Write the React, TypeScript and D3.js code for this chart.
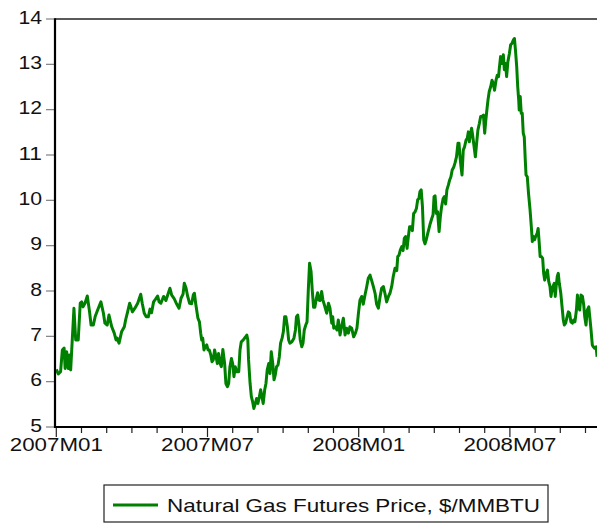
import * as d3 from "d3";

// [months since 2007M01, price $/MMBTU]
const early2007: [number, number][] = [
  [0, 6.27], [0.08, 6.17], [0.17, 6.22], [0.24, 6.7], [0.31, 6.74], [0.35, 6.29], [0.41, 6.66],
  [0.48, 6.29], [0.52, 6.59], [0.57, 6.26], [0.64, 6.99], [0.7, 7.62], [0.77, 6.92], [0.87, 6.92],
  [0.95, 7.73], [1.01, 7.76], [1.06, 7.65], [1.14, 7.73], [1.23, 7.89], [1.32, 7.54], [1.38, 7.25],
  [1.47, 7.25], [1.54, 7.43], [1.64, 7.58], [1.77, 7.76], [1.87, 7.51], [1.93, 7.29], [2.02, 7.25],
  [2.09, 7.47], [2.2, 7.21], [2.3, 7.07], [2.37, 6.92], [2.41, 6.96], [2.49, 6.85], [2.59, 7.1],
  [2.7, 7.21], [2.75, 7.36], [2.83, 7.54], [2.91, 7.73], [2.96, 7.65], [3.02, 7.54], [3.12, 7.62],
  [3.23, 7.73], [3.35, 7.93], [3.41, 7.73], [3.49, 7.51], [3.57, 7.43], [3.65, 7.43], [3.72, 7.6],
  [3.78, 7.52], [3.86, 7.76], [3.94, 7.82], [4.02, 7.89], [4.08, 7.76], [4.15, 7.73], [4.26, 7.88],
  [4.35, 7.79], [4.45, 7.96], [4.51, 8.06], [4.58, 7.91], [4.67, 7.84], [4.76, 7.73], [4.87, 7.62],
  [4.95, 7.84], [5.03, 7.93], [5.08, 8.17], [5.15, 8.06], [5.21, 7.89], [5.29, 7.73],
];

const late2007: [number, number][] = [
  [5.37, 7.72], [5.44, 7.92], [5.48, 7.95], [5.53, 7.73], [5.57, 7.58], [5.62, 7.4], [5.68, 7.32],
  [5.73, 7.07], [5.77, 6.92], [5.81, 6.96], [5.86, 6.7], [5.91, 6.77], [5.97, 6.81], [6.02, 6.7],
  [6.07, 6.7], [6.13, 6.59], [6.18, 6.44], [6.23, 6.48], [6.28, 6.7], [6.34, 6.55], [6.39, 6.4],
  [6.44, 6.62], [6.5, 6.4], [6.55, 6.33], [6.61, 6.71], [6.68, 6.4], [6.73, 5.96], [6.79, 5.89],
  [6.84, 5.96], [6.89, 6.33], [6.95, 6.51], [7.0, 6.4], [7.05, 6.11], [7.1, 6.33], [7.16, 6.22],
  [7.24, 6.22], [7.29, 6.7], [7.34, 6.88], [7.42, 6.92], [7.5, 6.98], [7.56, 7.03], [7.6, 6.92],
  [7.63, 6.48], [7.69, 5.96], [7.74, 5.67], [7.79, 5.56], [7.84, 5.41], [7.9, 5.52], [7.95, 5.63],
  [8.0, 5.52], [8.06, 5.67], [8.11, 5.82], [8.16, 5.67], [8.21, 5.52], [8.27, 5.82], [8.32, 5.96],
  [8.37, 6.26], [8.43, 6.4], [8.48, 6.18], [8.53, 6.66], [8.59, 6.4], [8.64, 6.04], [8.69, 6.15],
  [8.74, 6.33], [8.8, 6.37], [8.85, 6.55], [8.9, 6.85], [8.96, 6.96], [9.01, 7.1], [9.06, 7.43],
  [9.11, 7.43], [9.17, 7.21], [9.22, 6.92], [9.27, 6.85], [9.35, 6.88], [9.43, 6.96], [9.49, 7.14],
  [9.53, 7.43], [9.58, 7.47], [9.63, 7.25], [9.68, 6.92], [9.74, 6.77], [9.79, 6.85], [9.84, 7.14],
  [9.9, 7.25], [9.95, 7.32], [10.0, 8.02], [10.05, 8.61], [10.11, 8.43], [10.16, 7.99], [10.21, 7.64],
  [10.26, 7.64], [10.32, 7.84], [10.37, 7.96], [10.42, 7.8], [10.47, 7.79], [10.53, 7.99], [10.58, 7.8],
  [10.64, 7.69],
];

const early2008: [number, number][] = [
  [10.73, 7.51], [10.8, 7.73], [10.86, 7.62], [10.93, 7.29], [10.97, 7.43], [11.01, 7.18], [11.07, 7.21],
  [11.14, 7.14], [11.19, 7.36], [11.26, 7.03], [11.32, 7.21], [11.39, 7.4], [11.46, 7.03], [11.52, 7.18],
  [11.59, 7.07], [11.65, 7.21], [11.72, 7.18], [11.8, 6.99], [11.87, 7.07], [11.93, 7.18], [11.99, 7.51],
  [12.05, 7.8], [12.12, 7.88], [12.18, 7.71], [12.25, 7.91], [12.32, 8.1], [12.38, 8.28], [12.45, 8.35],
  [12.51, 8.24], [12.58, 8.1], [12.65, 7.95], [12.71, 7.71], [12.78, 7.62], [12.85, 7.88], [12.91, 8.06],
  [12.98, 8.1], [13.04, 7.95], [13.11, 7.76], [13.18, 7.88], [13.24, 7.95], [13.31, 8.1], [13.37, 8.32],
  [13.44, 8.5], [13.51, 8.45], [13.55, 8.76], [13.6, 8.79], [13.65, 8.9], [13.71, 8.98], [13.76, 8.89],
  [13.81, 9.16], [13.86, 9.2], [13.92, 8.94], [13.97, 9.2], [14.02, 9.42], [14.07, 9.42], [14.13, 9.33],
  [14.18, 9.71], [14.24, 9.75], [14.29, 9.82], [14.34, 10.01], [14.39, 10.04], [14.43, 10.19],
  [14.48, 10.23], [14.53, 9.86], [14.58, 9.13], [14.63, 9.04], [14.68, 9.13], [14.74, 9.27],
  [14.79, 9.38], [14.84, 9.49], [14.9, 9.6], [14.95, 9.68], [14.99, 10.08], [15.03, 10.1], [15.08, 9.71],
  [15.13, 9.75], [15.19, 9.31], [15.24, 9.64], [15.29, 9.86], [15.35, 10.04], [15.4, 10.08],
  [15.45, 9.92], [15.5, 10.23], [15.56, 10.34], [15.61, 10.45], [15.66, 10.52], [15.71, 10.67],
  [15.77, 10.73], [15.82, 10.82], [15.88, 10.96], [15.94, 11.26], [15.98, 11.26],
];

const late2008: [number, number][] = [
  [16.02, 10.96], [16.06, 10.74], [16.1, 10.56], [16.15, 11.11], [16.2, 11.18], [16.26, 11.33],
  [16.31, 11.37], [16.35, 11.51], [16.39, 11.29], [16.44, 11.48], [16.48, 11.59], [16.52, 11.44],
  [16.58, 11.18], [16.63, 10.96], [16.68, 11.26], [16.73, 11.55], [16.79, 11.7], [16.84, 11.85],
  [16.89, 11.85], [16.95, 11.88], [17.0, 11.48], [17.04, 11.74], [17.08, 11.96], [17.13, 12.21],
  [17.18, 12.4], [17.24, 12.51], [17.29, 12.65], [17.34, 12.58], [17.39, 12.43], [17.45, 12.65],
  [17.5, 12.76], [17.55, 12.73], [17.58, 12.91], [17.63, 13.17], [17.69, 13.02], [17.74, 13.21],
  [17.78, 12.88], [17.83, 13.02], [17.87, 12.73], [17.92, 13.06], [17.98, 13.24], [18.03, 13.43],
  [18.08, 13.46], [18.14, 13.54], [18.18, 13.57], [18.22, 13.32], [18.27, 12.95], [18.31, 12.51],
  [18.35, 12.21], [18.37, 11.99], [18.41, 12.29], [18.45, 11.92], [18.49, 11.92], [18.53, 11.48],
  [18.57, 11.4], [18.61, 10.89], [18.64, 10.56], [18.69, 10.52], [18.74, 10.15], [18.8, 9.79],
  [18.85, 9.42], [18.89, 9.09], [18.94, 9.2], [18.98, 9.13], [19.02, 9.2], [19.08, 9.27], [19.12, 9.38],
  [19.16, 9.09], [19.2, 8.76], [19.25, 8.76], [19.3, 8.72], [19.34, 8.39], [19.38, 8.24], [19.44, 8.39],
  [19.49, 8.46], [19.54, 8.21], [19.59, 8.1], [19.63, 7.88], [19.67, 8.02], [19.71, 8.1], [19.76, 8.17],
  [19.8, 7.88], [19.84, 8.13], [19.88, 8.32], [19.92, 8.39], [19.96, 8.17], [20.02, 7.95], [20.07, 7.65],
  [20.12, 7.36], [20.16, 7.25], [20.21, 7.29], [20.27, 7.43], [20.32, 7.54], [20.37, 7.51], [20.42, 7.32],
  [20.48, 7.29], [20.53, 7.36], [20.58, 7.32], [20.64, 7.58], [20.68, 7.91], [20.72, 7.65], [20.77, 7.58],
  [20.82, 7.91], [20.88, 7.88], [20.93, 7.69], [20.97, 7.43], [21.02, 7.25], [21.07, 7.58], [21.13, 7.65],
  [21.17, 7.43], [21.22, 7.14], [21.27, 6.81], [21.31, 6.77], [21.36, 6.74], [21.42, 6.77], [21.46, 6.55],
];

const yTicks = [5, 6, 7, 8, 9, 10, 11, 12, 13, 14];
const xTickLabels = ["2007M01", "2007M07", "2008M01", "2008M07"];
const monthTicks = d3.range(0, 22);
const legendLabel = "Natural Gas Futures Price, $/MMBTU";

const LINE_COLOR = "#008000";
const FONT = "Arial, 'Liberation Sans', sans-serif";

const width = 597;
const height = 525;
const plot = { left: 55, right: 600, top: 19, bottom: 427 };

const data = [...early2007, ...late2007, ...early2008, ...late2008];

const x = d3.scaleLinear().domain([0, 21.6]).range([56.3, 56.3 + 21.6 * 25.2]);
const y = d3.scaleLinear().domain([5, 14]).range([plot.bottom, plot.top]);

const line = d3
  .line<[number, number]>()
  .x((d) => x(d[0]))
  .y((d) => y(d[1]));

export default function App() {
  return (
    <svg
      width={width}
      height={height}
      style={{ position: "absolute", left: 0, top: 0, background: "#fff", fontFamily: FONT }}
    >
      <rect x={0} y={0} width={width} height={height} fill="#fff" />

      {/* y ticks + labels */}
      {yTicks.map((t) => (
        <g key={t}>
          <line x1={46} x2={plot.left} y1={y(t)} y2={y(t)} stroke="#808080" strokeWidth={1.2} />
          <text
            x={42}
            y={y(t) + 4.5}
            textAnchor="end"
            fontSize={19}
            fill="#111"
            textLength={String(t).length * 11.8}
            lengthAdjust="spacingAndGlyphs"
          >
            {t}
          </text>
        </g>
      ))}

      {/* month ticks */}
      {monthTicks.map((m) => (
        <line
          key={m}
          x1={x(m)}
          x2={x(m)}
          y1={plot.bottom}
          y2={plot.bottom + (m % 6 === 0 ? 10 : 6)}
          stroke="#222"
          strokeWidth={1.2}
        />
      ))}
      {xTickLabels.map((lab, i) => (
        <text
          key={lab}
          x={x(i * 6)}
          y={451}
          textAnchor="middle"
          fontSize={19}
          fill="#111"
          textLength={93}
          lengthAdjust="spacingAndGlyphs"
        >
          {lab}
        </text>
      ))}

      {/* series */}
      <path d={line(data) ?? ""} fill="none" stroke={LINE_COLOR} strokeWidth={3} strokeLinejoin="round" />

      {/* frame */}
      <line x1={plot.left} x2={plot.right} y1={plot.top} y2={plot.top} stroke="#222" strokeWidth={1.4} />
      <line x1={plot.left} x2={plot.left} y1={plot.top - 0.7} y2={plot.bottom + 1} stroke="#000" strokeWidth={2.2} />
      <line x1={plot.left - 1} x2={plot.right} y1={plot.bottom} y2={plot.bottom} stroke="#000" strokeWidth={2.2} />

      {/* legend */}
      <rect x={104} y={485} width={444} height={37} fill="#fff" stroke="#222" strokeWidth={1.2} />
      <line x1={113} x2={158} y1={505} y2={505} stroke={LINE_COLOR} strokeWidth={3} />
      <text
        x={167}
        y={512}
        fontSize={19}
        fill="#111"
        textLength={373}
        lengthAdjust="spacingAndGlyphs"
      >
        {legendLabel}
      </text>
    </svg>
  );
}
